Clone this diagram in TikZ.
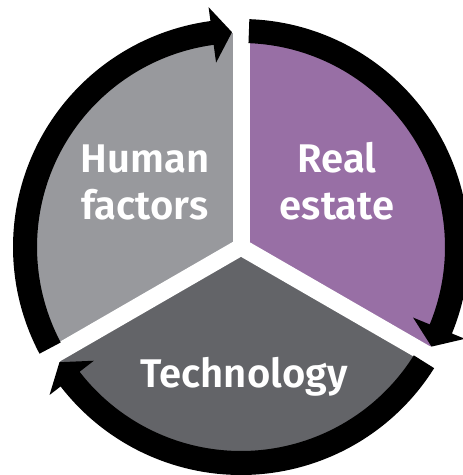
\documentclass[tikz,border=0pt]{standalone}
\usepackage{fontspec}
\setmainfont{Fira Sans}[BoldFont={Fira Sans SemiBold}]
\definecolor{hfgray}{HTML}{98999D}
\definecolor{repurple}{HTML}{986FA5}
\definecolor{tcgray}{HTML}{636468}
\tikzset{
  sector/.style={draw=none},
  gapband/.style={draw=white, line width=17pt},
  ringarrow/.style={fill=black},
  lbl/.style={text=white, font=\bfseries\fontsize{40}{46}\selectfont, anchor=base, inner sep=0pt}
}
\begin{document}
\begin{tikzpicture}[x=1pt,y=1pt]
\useasboundingbox (0,0) rectangle (463,475);
\clip (0,0) rectangle (463,475);
\begin{scope}[shift={(241,228)}]
  \coordinate (c) at (0,0);
  % sectors
  \fill[repurple] (c) -- (-30:214) arc[start angle=-30, end angle=90, radius=214] -- cycle;
  \fill[hfgray] (c) -- (90:214) arc[start angle=90, end angle=210, radius=214] -- cycle;
  \fill[tcgray] (c) -- (210:214) arc[start angle=210, end angle=330, radius=214] -- cycle;
  % white gaps
  \foreach \g in {90,210,330} {
    \draw[gapband] (c) -- (\g:255);
  }
  % ring arrows (clockwise)
  \foreach \g in {90,-30,-150} {
    \pgfmathsetmacro{\s}{\g-2.1}
    \pgfmathsetmacro{\t}{\g-120+2.4}
    \pgfmathsetmacro{\b}{\t+5.3}
    \fill[ringarrow] (\s:228) arc[start angle=\s, end angle=\b, radius=228]
      -- (\b:242) -- (\t:215) -- (\b:186) -- (\b:204)
      arc[start angle=\b, end angle=\s, radius=204] -- cycle;
  }
\end{scope}
% labels
\node[lbl] (hf1) at (145,302) {Human};
\node[lbl] (hf2) at (145,255) {factors};
\node[lbl] (re1) at (337,302) {Real};
\node[lbl] (re2) at (337,255) {estate};
\node[lbl] (tc) at (244,88) {Technology};
\end{tikzpicture}
\end{document}
